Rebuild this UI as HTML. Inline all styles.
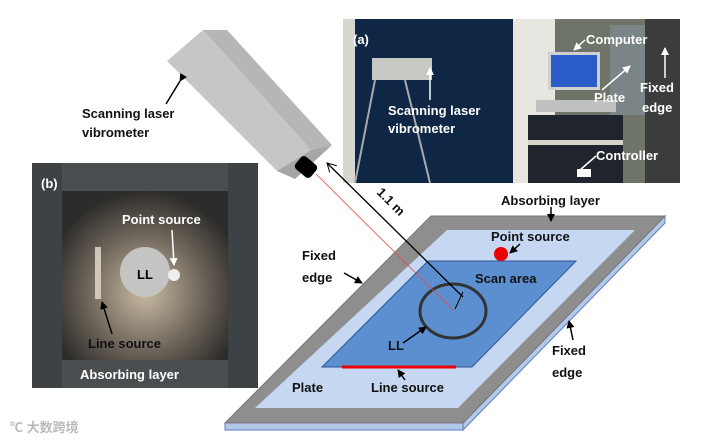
<!DOCTYPE html>
<html><head><meta charset="utf-8"><style>
body{margin:0;background:#fff;width:714px;height:440px;overflow:hidden}
svg text{font-family:"Liberation Sans","Noto Sans CJK SC",sans-serif;font-weight:bold;font-size:13px}
</style></head><body>
<svg width="714" height="440" viewBox="0 0 714 440" xmlns="http://www.w3.org/2000/svg">
<defs>
<marker id="ah" markerWidth="8" markerHeight="8" refX="7" refY="4" orient="auto" markerUnits="userSpaceOnUse"><path d="M0,0 L8,4 L0,8 Z" fill="#000"/></marker>
<marker id="aw" markerWidth="8" markerHeight="8" refX="7" refY="4" orient="auto" markerUnits="userSpaceOnUse"><path d="M0,0 L8,4 L0,8 Z" fill="#fff"/></marker>
<marker id="ao" markerWidth="10" markerHeight="10" refX="9" refY="5" orient="auto" markerUnits="userSpaceOnUse"><path d="M0,0 L9,5 L0,10" fill="none" stroke="#000" stroke-width="1"/></marker>
<radialGradient id="gl" cx="0.5" cy="0.6" r="0.6"><stop offset="0" stop-color="#c9bca4"/><stop offset="0.6" stop-color="#6a6258"/><stop offset="1" stop-color="#2e2c2a"/></radialGradient>
</defs>

<!-- photo (a) -->
<rect x="343" y="19" width="337" height="164" fill="#0f2645"/>
<rect x="343" y="19" width="12" height="164" fill="#d8d6d0"/>
<rect x="513" y="19" width="42" height="164" fill="#e8e6e0"/>
<rect x="555" y="19" width="125" height="164" fill="#6f7468"/>
<rect x="610" y="25" width="60" height="90" fill="#7e8a90" opacity="0.8"/>
<rect x="645" y="19" width="35" height="164" fill="#3a3d3c"/>
<rect x="372" y="58" width="60" height="22" fill="#c8c8c4"/>
<rect x="548" y="52" width="52" height="38" fill="#d0d0d0"/>
<rect x="551" y="55" width="46" height="32" fill="#2a5bc8"/>
<rect x="536" y="100" width="80" height="12" fill="#c0c0c0"/>
<rect x="528" y="115" width="95" height="68" fill="#20242c"/>
<rect x="528" y="140" width="95" height="5" fill="#d8d4cc"/>
<rect x="577" y="169" width="14" height="8" fill="#fff"/>
<line x1="375" y1="80" x2="355" y2="183" stroke="#aaa" stroke-width="2"/>
<line x1="405" y1="80" x2="430" y2="183" stroke="#aaa" stroke-width="2"/>
<text x="353" y="44" fill="#fff" font-size="16">(a)</text>
<line x1="430" y1="100" x2="430" y2="68" stroke="#fff" stroke-width="1.5" marker-end="url(#aw)"/>
<text x="388" y="115" fill="#fff">Scanning laser</text>
<text x="388" y="133" fill="#fff">vibrometer</text>
<text x="586" y="44" fill="#fff">Computer</text>
<line x1="585" y1="40" x2="574" y2="50" stroke="#fff" stroke-width="1.5" marker-end="url(#aw)"/>
<text x="594" y="102" fill="#fff">Plate</text>
<line x1="602" y1="90" x2="630" y2="66" stroke="#fff" stroke-width="1.5" marker-end="url(#aw)"/>
<text x="640" y="92" fill="#fff">Fixed</text>
<text x="642" y="112" fill="#fff">edge</text>
<line x1="665" y1="78" x2="665" y2="48" stroke="#fff" stroke-width="1.5" marker-end="url(#aw)"/>
<text x="596" y="160" fill="#fff">Controller</text>
<line x1="596" y1="156" x2="580" y2="170" stroke="#fff" stroke-width="1.5"/>

<!-- photo (b) -->
<rect x="32" y="163" width="226" height="225" fill="#4a4e50"/>
<rect x="32" y="163" width="30" height="225" fill="#3e4244"/>
<rect x="228" y="163" width="30" height="225" fill="#3e4244"/>
<rect x="62" y="191" width="166" height="169" fill="url(#gl)"/>
<rect x="95" y="247" width="6" height="52" fill="#cfc8b8"/>
<circle cx="145" cy="272" r="25" fill="#c4c4c2"/>
<circle cx="174" cy="275" r="6" fill="#eee"/>
<text x="41" y="188" fill="#fff" font-size="16">(b)</text>
<text x="122" y="224" fill="#fff">Point source</text>
<line x1="172" y1="230" x2="174" y2="265" stroke="#fff" stroke-width="1.5" marker-end="url(#aw)"/>
<text x="137" y="279" fill="#000">LL</text>
<text x="88" y="348" fill="#111">Line source</text>
<line x1="112" y1="334" x2="102" y2="302" stroke="#000" stroke-width="1.5" marker-end="url(#ah)"/>
<text x="80" y="379" fill="#fff">Absorbing layer</text>

<!-- vibrometer -->
<polygon points="167,61 203,30 311,150 277,171" fill="#c6c6c6"/>
<polygon points="203,30 227,30 332,145 311,150" fill="#b6b6b6"/>
<polygon points="277,171 311,150 332,145 295,179" fill="#a6a6a6"/>
<rect x="296" y="159" width="20" height="16" rx="4" fill="#000" transform="rotate(40 306 167)"/>
<line x1="180" y1="81" x2="166" y2="104" stroke="#000" stroke-width="1.5" marker-start="url(#ah)"/>
<text x="82" y="118" fill="#111">Scanning laser</text>
<text x="82" y="137" fill="#111">vibrometer</text>

<!-- plate -->
<polygon points="225,423 463,423 463,430 225,430" fill="#b4c8ea" stroke="#5b7fbf" stroke-width="1"/>
<polygon points="463,423 665,216 665,223 463,430" fill="#b4c8ea" stroke="#5b7fbf" stroke-width="1"/>
<polygon points="431,216 665,216 463,423 225,423" fill="#8e8e8e" stroke="#777"/>
<polygon points="447,230 635,230 458,408 255,408" fill="#c6d7f2"/>
<polygon points="428,261 576,261 472,367 322,367" fill="#5b8fcf" stroke="#2f5597" stroke-width="1"/>
<ellipse cx="453" cy="311" rx="33" ry="27" fill="none" stroke="#333" stroke-width="3"/>
<line x1="342" y1="367" x2="456" y2="367" stroke="#e00" stroke-width="3"/>
<circle cx="501" cy="254" r="7" fill="#e00"/>

<!-- laser + distance -->
<line x1="316" y1="174" x2="453" y2="310" stroke="#e44" stroke-width="0.8"/>
<line x1="463" y1="297" x2="327" y2="163" stroke="#000" stroke-width="1.3" marker-end="url(#ao)"/>
<line x1="463" y1="292" x2="455" y2="309" stroke="#000" stroke-width="1"/>
<text x="0" y="0" transform="translate(376,193) rotate(45)" fill="#111">1.1 m</text>

<!-- labels -->
<text x="501" y="205" fill="#111">Absorbing layer</text>
<line x1="551" y1="207" x2="551" y2="221" stroke="#000" stroke-width="1.5" marker-end="url(#ah)"/>
<text x="491" y="241" fill="#111">Point source</text>
<line x1="520" y1="244" x2="510" y2="253" stroke="#000" stroke-width="1.5" marker-end="url(#ah)"/>
<text x="475" y="283" fill="#111">Scan area</text>
<text x="388" y="350" fill="#111">LL</text>
<line x1="403" y1="343" x2="426" y2="327" stroke="#000" stroke-width="1.5" marker-end="url(#ah)"/>
<text x="292" y="392" fill="#111">Plate</text>
<text x="371" y="392" fill="#111">Line source</text>
<line x1="405" y1="380" x2="398" y2="370" stroke="#000" stroke-width="1.5" marker-end="url(#ah)"/>
<text x="302" y="260" fill="#111">Fixed</text>
<text x="302" y="282" fill="#111">edge</text>
<line x1="344" y1="273" x2="362" y2="283" stroke="#000" stroke-width="1.5" marker-end="url(#ah)"/>
<text x="552" y="355" fill="#111">Fixed</text>
<text x="552" y="377" fill="#111">edge</text>
<line x1="573" y1="340" x2="569" y2="321" stroke="#000" stroke-width="1.5" marker-end="url(#ah)"/>

<!-- watermark -->
<text x="10" y="432" fill="#bbb" font-size="13" font-weight="normal">℃ 大数跨境</text>
</svg>
</body></html>
